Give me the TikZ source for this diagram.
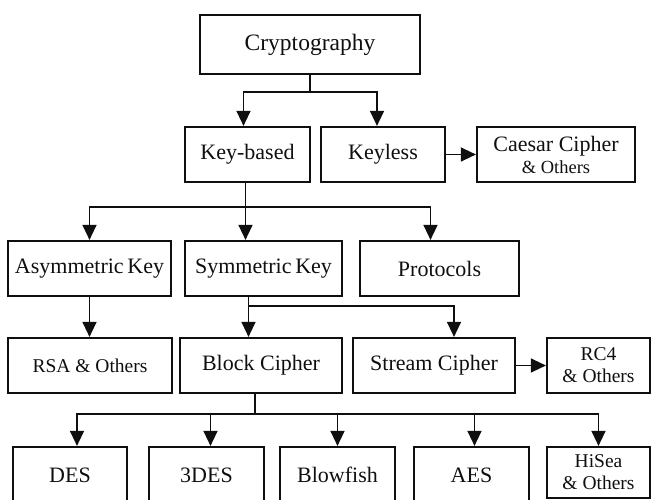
\documentclass[tikz,border=0pt]{standalone}
\usepackage{fontspec}
\setmainfont{Liberation Serif}
\usepackage{tikz}
\usetikzlibrary{arrows.meta,positioning,calc}
\definecolor{negro}{RGB}{15,15,15}

\tikzset{
  caja/.style={draw=negro,line width=2.2pt,minimum height=55pt,inner sep=2pt,align=center,
    text=negro,font=\fontsize{22}{22}\selectfont},
  cajachica/.style={caja,font=\fontsize{19.5}{22}\selectfont},
  flecha/.style={-{Triangle[length=15pt,width=14pt]},draw=negro,line width=1.4pt}
}

\begin{document}
\begin{tikzpicture}[x=1pt,y=-1pt]
\useasboundingbox (0,0) rectangle (653,500);

% raiz
\node[caja,minimum width=220pt,minimum height=59pt,font=\fontsize{23.5}{24}\selectfont] (cripto) at (310,44.5) {Cryptography};

% primer nivel
\node[caja,minimum width=125pt] (conclave) at (247.5,154.5) {Key-based};
\node[caja,minimum width=124pt] (sinclave) at (383,154.5) {Keyless};
\node[caja,minimum width=158pt] (cesar) at (556,154.5) {Caesar Cipher\\{\fontsize{18.5}{22}\selectfont \& Others}};

% segundo nivel
\node[caja,minimum width=163pt] (asim) at (89.5,268.5) {Asymmetric\,Key};
\node[caja,minimum width=157pt] (sim) at (263.5,268.5) {Symmetric\,Key};
\node[caja,minimum width=159pt] (proto) at (439.5,268.5) {Protocols};

% tercer nivel
\node[cajachica,minimum width=164pt] (rsa) at (90,365.5) {RSA \& Others};
\node[caja,minimum width=162pt] (bloque) at (261,365.5) {Block Cipher};
\node[caja,minimum width=162pt] (flujo) at (434,365.5) {Stream Cipher};
\node[cajachica,minimum width=103pt] (rc4) at (598.5,365.5) {RC4\\\& Others};

% algoritmos de bloque
\node[caja,minimum width=114pt,minimum height=56pt] (des) at (70,475) {DES};
\node[caja,minimum width=115pt,minimum height=56pt] (tdes) at (206.5,475) {3DES};
\node[caja,minimum width=115pt,minimum height=56pt] (blow) at (337.5,475) {Blowfish};
\node[caja,minimum width=115pt,minimum height=56pt] (aes) at (471.5,475) {AES};
\node[cajachica,minimum width=103pt,minimum height=51pt] (hisea) at (598.5,472.5) {HiSea\\\& Others};

% conexiones
\coordinate (u1) at ($(cripto.south)+(0,17)$);
\draw[flecha] (cripto.south) -- (u1) -| ([xshift=-4pt]conclave.north);
\draw[flecha] (u1) -| ([xshift=-6pt]sinclave.north);
\draw[flecha] (sinclave.east) -- (cesar.west);

\coordinate (u2) at ($(conclave.south)+(-2,24)$);
\draw[flecha] ([xshift=-2pt]conclave.south) -- (u2) -| (asim.north);
\draw[flecha] (u2) -- (u2 |- sim.north);
\draw[flecha] (u2) -| ([xshift=-9pt]proto.north);

\draw[flecha] (asim.south) -- (asim.south |- rsa.north);
\coordinate (u3) at ($(sim.south)+(-15,9)$);
\draw[flecha] ([xshift=-15pt]sim.south) -- (u3 |- bloque.north);
\draw[flecha] (u3) -| ([xshift=20pt]flujo.north);
\draw[flecha] (flujo.east) -- (rc4.west);

\coordinate (u4) at ($(bloque.south)+(-6,20)$);
\draw[flecha] ([xshift=-6pt]bloque.south) -- (u4) -| ([xshift=7pt]des.north);
\draw[flecha] (u4) -| ([xshift=4pt]tdes.north);
\draw[flecha] (u4) -| (blow.north);
\draw[flecha] (u4) -| ([xshift=3pt]aes.north);
\draw[flecha] (u4) -| (hisea.north);
\end{tikzpicture}
\end{document}
